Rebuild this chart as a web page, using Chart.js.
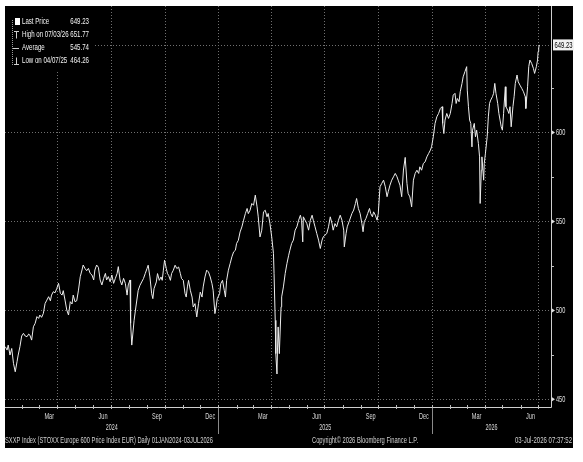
<!DOCTYPE html>
<html><head><meta charset="utf-8">
<script src="https://cdn.jsdelivr.net/npm/chart.js@4.4.1/dist/chart.umd.min.js"></script>
<style>html,body{margin:0;padding:0;background:#fff;}canvas{display:block;}</style>
</head><body>
<canvas id="c" width="583" height="462"></canvas>
<script>
// Days since 2024-01-01 (x) and SXXP closing levels (y)
const days = [2,5,7,10,13,16,19,22,24,27,30,33,36,39,42,44,47,50,53,56,59,61,64,67,70,73,76,79,81,84,87,90,93,96,99,101,104,107,110,113,116,118,121,124,127,130,133,135,138,141,144,147,150,153,155,158,161,164,167,170,173,175,178,181,184,187,190,193,195,198,201,204,207,210,212,215,216,218,222,225,229,232,235,238,241,244,246,249,252,254,256,260,262,265,268,270,272,274,277,279,281,284,286,289,292,295,298,301,303,306,309,311,313,315,318,321,323,326,329,332,335,338,340,343,346,349,352,355,357,360,362,364,368,370,373,376,378,380,383,386,389,392,395,397,400,403,406,409,412,415,417,420,423,426,429,432,434,437,440,443,446,449,451,454,457,460,461,463,464,466,467,468,470,473,474,477,480,483,486,488,491,494,497,500,503,506,508,510,511,514,517,520,523,526,528,531,534,537,540,543,545,548,551,554,557,560,562,565,568,571,574,577,580,581,584,586,590,594,597,600,602,605,608,611,613,615,618,621,624,626,629,631,634,637,639,642,645,648,651,654,656,659,662,665,668,671,673,676,679,682,685,688,690,693,696,699,702,705,708,710,713,716,719,722,725,728,730,733,736,739,742,745,748,749,751,753,756,759,762,765,767,770,772,774,777,779,782,784,787,790,791,793,795,797,799,800,803,805,807,810,812,813,815,816,819,820,822,825,827,829,831,834,836,838,840,843,845,847,849,851,853,856,857,860,862,864,866,869,871,873,876,878,881,884,887,890,891,894,896,898,901,904,906,909,911,912,913,914];
const prices = [479.6,477.7,480.5,474.9,478.6,470.2,465.5,471.1,474.9,479.6,485.6,487.1,485.6,485.2,486.7,486.1,483.3,490.8,492.7,496.5,495.5,497.4,496.1,498.3,503.9,505.8,507.7,505.4,508.6,510.5,509.9,512.4,515.2,509.6,508.6,511.1,505.8,500.2,497.4,504.9,503.6,508.6,504.9,505.4,511.4,518.9,522.7,525.5,523.6,522.3,523.6,520.8,519.9,517.1,522.7,525.5,524.2,517.1,514.3,518.0,520.8,517.1,519.0,516.1,519.9,515.2,518.0,520.8,524.6,517.1,514.3,518.0,515.2,508.6,514.3,517.1,492.7,480.5,494.4,501.9,511.3,514.1,516.0,517.9,520.7,523.5,525.4,518.8,509.4,506.6,512.2,516.0,520.7,516.9,518.8,516.9,522.6,528.2,523.5,520.7,519.7,516.9,520.7,522.6,525.4,523.5,524.4,520.7,517.9,516.9,509.4,507.5,513.2,516.9,511.3,507.5,501.9,503.8,496.3,503.8,510.3,507.5,513.2,518.8,522.6,521.6,518.8,515.0,511.3,498.2,501.9,506.6,509.4,515.0,516.9,511.3,507.5,516.9,522.6,526.3,530.1,532.9,533.8,537.6,539.4,544.1,546.9,550.7,554.4,557.3,554.4,556.3,560.1,559.1,564.8,558.2,552.6,541.3,545.1,555.4,556.3,552.6,554.5,548.8,541.3,532.0,520.7,494.4,475.7,464.26,479.4,490.7,475.7,502.0,507.6,513.2,520.7,526.3,531.0,533.8,537.6,539.5,545.1,547.0,550.7,553.5,550.7,538.5,552.6,550.7,548.8,545.1,550.7,553.5,550.7,547.0,543.2,539.5,534.8,539.5,541.3,542.3,543.2,547.0,552.6,548.8,545.1,548.8,547.0,550.7,553.5,550.7,545.1,535.7,543.2,547.0,550.7,554.5,556.4,560.1,562.9,557.3,554.5,548.8,544.2,549.8,551.7,554.5,557.3,554.5,552.6,555.4,553.5,550.7,554.5,569.5,571.4,573.2,569.5,563.9,566.7,570.4,573.2,575.1,577.0,575.1,573.2,570.4,563.9,578.9,586.0,571.4,565.7,563.8,558.2,573.2,577.0,578.8,577.0,580.7,578.8,582.6,583.5,586.3,588.2,590.1,591.9,597.6,605.1,608.8,610.7,613.5,614.5,605.1,599.4,607.0,610.7,607.9,610.7,616.3,621.0,622.0,616.3,619.1,617.3,622.9,627.6,631.3,634.2,637.0,623.8,614.5,607.0,605.1,591.9,601.3,605.1,597.6,601.3,593.8,586.3,560.1,578.8,586.3,573.2,582.6,588.2,597.6,608.8,616.3,618.2,620.1,622.0,627.6,622.0,616.3,610.7,607.0,603.2,601.3,610.7,625.7,614.5,612.6,610.7,614.5,603.2,614.5,620.1,627.6,632.3,628.5,626.6,624.8,622.9,620.1,613.5,625.7,637.0,640.7,638.8,636.0,633.2,637.0,640.7,645.5,647.5,649.23];

const legendNames = ['Last Price', 'High on 07/03/26', 'Average', 'Low on 04/07/25'];
const legendValues = [649.23, 651.77, 545.74, 464.26];
const lastPrice = 649.23;
const yTicks = [450, 500, 550, 600];
const yMinor = [475, 525, 575, 625];
const monthLabels = {3: 'Mar', 6: 'Jun', 9: 'Sep', 12: 'Dec'};
const years = [2024, 2025, 2026];
const gridMonths = [1, 4, 7, 10];
const footerLeft = 'SXXP Index (STOXX Europe 600 Price Index EUR) Daily 01JAN2024-03JUL2026';
const footerMid = 'Copyright\u00A9 2026 Bloomberg Finance L.P.';
const footerRight = '03-Jul-2026 07:37:52';

const DAY0 = Date.UTC(2024, 0, 1);
function dayOf(y, m, d) { return (Date.UTC(y, m - 1, d) - DAY0) / 86400000; }

const FONT = '"Liberation Sans", Arial, sans-serif';
function txt(ctx, s, x, y, o) {
  ctx.save();
  ctx.font = (o.size || 9) + 'px ' + FONT;
  const w = ctx.measureText(s).width;
  const sx = o.width ? o.width / w : (o.sx || 0.7);
  const W = w * sx;
  let x0 = x;
  if (o.align === 'center') x0 = x - W / 2; else if (o.align === 'right') x0 = x - W;
  ctx.translate(x0, y);
  ctx.scale(sx, 1);
  ctx.fillStyle = o.color || '#ddd';
  ctx.textBaseline = 'middle';
  ctx.textAlign = 'left';
  ctx.fillText(s, 0, 0);
  ctx.restore();
}

const bbg = {
  id: 'bbg',
  beforeDraw(chart) {
    const ctx = chart.ctx;
    ctx.save();
    ctx.fillStyle = '#fff';
    ctx.fillRect(0, 0, chart.width, chart.height);
    ctx.fillStyle = '#000';
    ctx.fillRect(5, 6, 568, 442);
    ctx.restore();
  },
  beforeDatasetsDraw(chart) {
    const {ctx, chartArea: a, scales: {x, y}} = chart;
    ctx.save();
    ctx.strokeStyle = '#707070';
    ctx.lineWidth = 1;
    ctx.setLineDash([1, 2]);
    years.forEach(yr => gridMonths.forEach(m => {
      const d = dayOf(yr, m, 1);
      if (d <= x.min || d >= x.max) return;
      const px = Math.round(x.getPixelForValue(d)) + 0.5;
      ctx.beginPath(); ctx.moveTo(px, a.top); ctx.lineTo(px, a.bottom); ctx.stroke();
    }));
    yTicks.concat([lastPrice]).forEach(v => {
      const py = Math.round(y.getPixelForValue(v)) + 0.5;
      ctx.beginPath(); ctx.moveTo(a.left, py); ctx.lineTo(a.right, py); ctx.stroke();
    });
    ctx.restore();
  },
  afterDatasetsDraw(chart) {
    const {ctx, chartArea: a, scales: {x, y}} = chart;
    ctx.save();
    // axes
    ctx.strokeStyle = '#cfcfcf';
    ctx.lineWidth = 1;
    ctx.beginPath();
    ctx.moveTo(a.left, a.bottom + 0.5); ctx.lineTo(a.right + 0.5, a.bottom + 0.5);
    ctx.moveTo(a.right + 0.5, a.top); ctx.lineTo(a.right + 0.5, a.bottom + 0.5);
    ctx.stroke();
    // month ticks
    ctx.strokeStyle = '#bdbdbd';
    years.forEach(yr => { for (let m = 1; m <= 12; m++) {
      const d = dayOf(yr, m, 1);
      if (d <= x.min || d >= x.max) continue;
      const px = Math.round(x.getPixelForValue(d)) + 0.5;
      ctx.beginPath(); ctx.moveTo(px, a.bottom - 2); ctx.lineTo(px, a.bottom + 2); ctx.stroke();
    }});
    // month labels
    years.forEach(yr => Object.keys(monthLabels).forEach(m => {
      const d = dayOf(yr, +m, 18);
      if (d <= x.min || d >= x.max) return;
      txt(ctx, monthLabels[m], x.getPixelForValue(d), a.bottom + 10, {size: 9, sx: 0.62, align: 'center', color: '#d8d8d8'});
    }));
    // year labels and separators
    years.forEach(yr => {
      const s = Math.max(dayOf(yr, 1, 1), x.min), e = Math.min(dayOf(yr + 1, 1, 1), x.max);
      txt(ctx, String(yr), x.getPixelForValue((s + e) / 2), a.bottom + 21, {size: 9, sx: 0.6, align: 'center', color: '#d8d8d8'});
      const b = dayOf(yr, 1, 1);
      if (b > x.min && b < x.max) {
        const px = Math.round(x.getPixelForValue(b)) + 0.5;
        ctx.strokeStyle = '#8a8a8a';
        ctx.beginPath(); ctx.moveTo(px, a.bottom + 1); ctx.lineTo(px, a.bottom + 27); ctx.stroke();
      }
    });
    // y labels
    yTicks.forEach(v => {
      const py = y.getPixelForValue(v);
      ctx.fillStyle = '#e0e0e0';
      ctx.beginPath(); ctx.moveTo(a.right + 1, py - 2); ctx.lineTo(a.right + 4, py); ctx.lineTo(a.right + 1, py + 2); ctx.fill();
      txt(ctx, String(v), a.right + 5, py, {size: 9, sx: 0.62, color: '#e0e0e0'});
    });
    yMinor.forEach(v => {
      const py = Math.round(y.getPixelForValue(v));
      ctx.fillStyle = '#bdbdbd';
      ctx.fillRect(a.right + 1, py, 2, 1);
    });
    // last price tag
    const lp = y.getPixelForValue(lastPrice);
    ctx.fillStyle = '#f2f2f2';
    ctx.fillRect(a.right + 2, lp - 5.5, 21, 11);
    txt(ctx, lastPrice.toFixed(2), a.right + 12.5, lp + 0.5, {size: 9, width: 18, align: 'center', color: '#000'});
    // legend box
    ctx.fillStyle = '#000';
    ctx.fillRect(5, 6, 88, 66);
    const rows = [22, 35, 48, 61];
    ctx.strokeStyle = '#9a9a9a';
    ctx.setLineDash([1, 1]);
    ctx.beginPath(); ctx.moveTo(12.5, 20); ctx.lineTo(12.5, 66); ctx.stroke();
    ctx.setLineDash([]);
    ctx.fillStyle = '#ffffff';
    ctx.fillRect(15, rows[0] - 4, 5, 7);
    ctx.strokeStyle = '#cfcfcf';
    ctx.beginPath();
    ctx.moveTo(14, rows[1] - 3.5); ctx.lineTo(19, rows[1] - 3.5);
    ctx.moveTo(16.5, rows[1] - 3.5); ctx.lineTo(16.5, rows[1] + 3.5);
    ctx.moveTo(13, rows[2] + 0.5); ctx.lineTo(19, rows[2] + 0.5);
    ctx.moveTo(16.5, rows[3] - 3.5); ctx.lineTo(16.5, rows[3] + 3.5);
    ctx.moveTo(14, rows[3] + 3.5); ctx.lineTo(19, rows[3] + 3.5);
    ctx.stroke();
    legendNames.forEach((n, i) => {
      txt(ctx, n, 22, rows[i], {size: 9, sx: 0.68, color: '#f4f4f4'});
      txt(ctx, legendValues[i].toFixed(2), 89, rows[i], {size: 9, sx: 0.68, align: 'right', color: '#f4f4f4'});
    });
    // footer
    txt(ctx, footerLeft, 5, 441, {size: 9, width: 208, color: '#d0d0d0'});
    txt(ctx, footerMid, 312, 441, {size: 9, width: 106, color: '#d0d0d0'});
    txt(ctx, footerRight, 572, 441, {size: 9, width: 57, align: 'right', color: '#d0d0d0'});
    ctx.restore();
  }
};

new Chart(document.getElementById('c').getContext('2d'), {
  type: 'line',
  data: {datasets: [{
    data: days.map((d, i) => ({x: d, y: prices[i]})),
    borderColor: '#ededed', borderWidth: 1, pointRadius: 0, tension: 0, fill: false
  }]},
  options: {
    responsive: false, animation: false, devicePixelRatio: 1,
    layout: {padding: {left: 5, top: 6, right: 10, bottom: 14}},
    plugins: {legend: {display: false}, tooltip: {enabled: false}},
    scales: {
      x: {type: 'linear', min: 1.5, max: 934, grid: {display: false}, border: {display: false},
          ticks: {display: false}, afterFit(s) { s.height = 41; }},
      y: {position: 'right', min: 445.7, max: 671.1, grid: {display: false}, border: {display: false},
          ticks: {display: false}, afterFit(s) { s.width = 22; }}
    }
  },
  plugins: [bbg]
});
</script>
</body></html>
